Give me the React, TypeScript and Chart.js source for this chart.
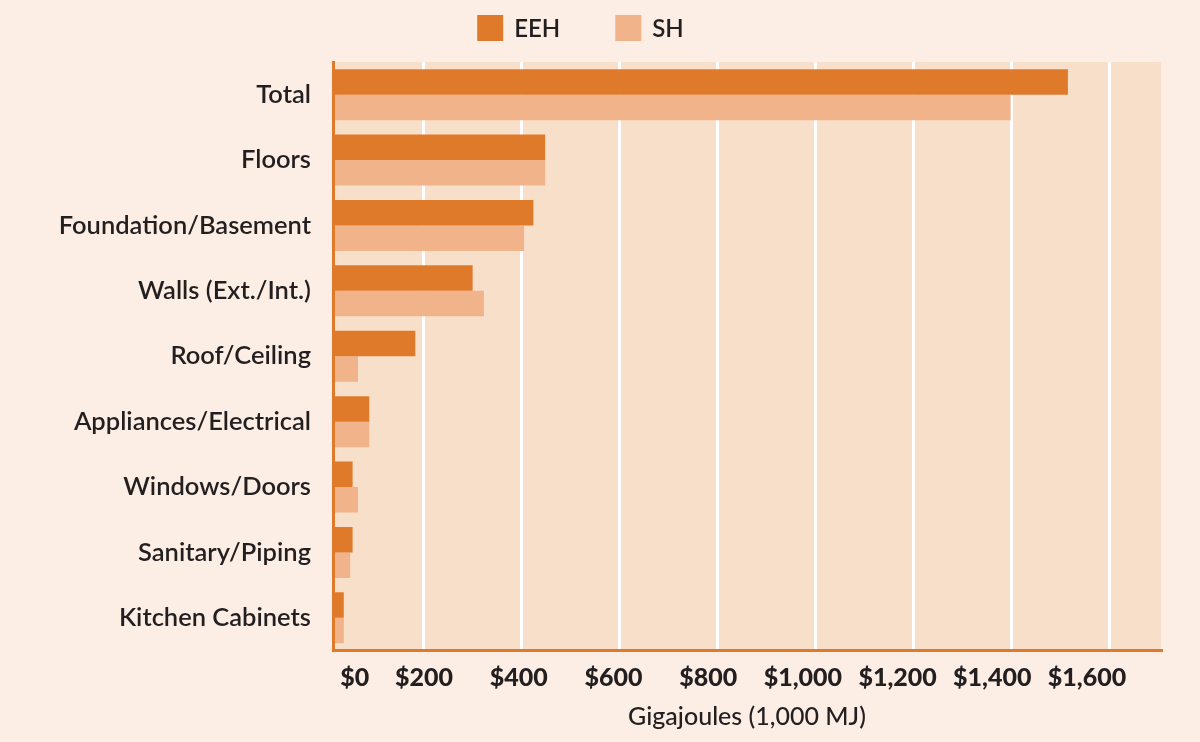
import React, { useEffect, useRef } from 'react';
import { Chart, registerables } from 'chart.js';

Chart.register(...registerables);

const categories = [
  'Total',
  'Floors',
  'Foundation/Basement',
  'Walls (Ext./Int.)',
  'Roof/Ceiling',
  'Appliances/Electrical',
  'Windows/Doors',
  'Sanitary/Piping',
  'Kitchen Cabinets',
];
const seriesNames = ['EEH', 'SH'];
const eehValues = [1515, 448, 424, 300, 183, 89, 55, 55, 37];
const shValues = [1398, 448, 405, 323, 66, 89, 66, 50, 37];
const gridValues = [200, 400, 600, 800, 1000, 1200, 1400, 1600];
const tickLabels = ['$0', '$200', '$400', '$600', '$800', '$1,000', '$1,200', '$1,400', '$1,600'];
const axisTitle = 'Gigajoules (1,000 MJ)';

const PAGE_BG = '#FCEEE4';
const PLOT_BG = '#F8DFCA';
const EEH_COLOR = '#E07A2B';
const SH_COLOR = '#F0B38A';
const AXIS_COLOR = '#E07A2B';
const TEXT_COLOR = '#231F20';
const FONT = 'Lato, "Open Sans", sans-serif';

const bgPlugin = {
  id: 'bgPlugin',
  beforeDraw(chart: any) {
    const { ctx, chartArea, width, height } = chart;
    ctx.save();
    ctx.fillStyle = PAGE_BG;
    ctx.fillRect(0, 0, width, height);
    ctx.fillStyle = PLOT_BG;
    ctx.fillRect(chartArea.left, chartArea.top, chartArea.right - chartArea.left, chartArea.bottom - chartArea.top);
    ctx.restore();
  },
};

const legendPlugin = {
  id: 'customLegend',
  afterDraw(chart: any) {
    const { ctx, chartArea } = chart;
    const box = 26;
    const textGap = 11;
    const itemGap = 55;
    ctx.save();
    ctx.font = `600 24px ${FONT}`;
    ctx.textBaseline = 'middle';
    ctx.textAlign = 'left';
    const items = chart.data.datasets.map((ds: any) => ({
      label: ds.label,
      color: ds.backgroundColor,
      w: ctx.measureText(ds.label).width,
    }));
    const total = items.reduce((s: number, it: any, i: number) => s + box + textGap + it.w + (i > 0 ? itemGap : 0), 0);
    const cx = chartArea.right / 2;
    let x = cx - total / 2;
    const y = 15;
    items.forEach((it: any) => {
      ctx.fillStyle = it.color;
      ctx.fillRect(x, y, box, box);
      ctx.fillStyle = TEXT_COLOR;
      ctx.fillText(it.label, x + box + textGap, y + box / 2 + 1);
      x += box + textGap + it.w + itemGap;
    });
    ctx.restore();
  },
};

export default function App() {
  const canvasRef = useRef<HTMLCanvasElement | null>(null);

  useEffect(() => {
    document.body.style.margin = '0';
    document.body.style.background = PAGE_BG;
    const canvas = canvasRef.current;
    if (!canvas) return;
    const labelZero = 54;
    const chart = new Chart(canvas, {
      type: 'bar',
      data: {
        labels: categories,
        datasets: [
          {
            label: seriesNames[0],
            data: eehValues,
            backgroundColor: EEH_COLOR,
            borderWidth: 0,
            categoryPercentage: 0.78,
            barPercentage: 1,
            clip: 0,
          },
          {
            label: seriesNames[1],
            data: shValues,
            backgroundColor: SH_COLOR,
            borderWidth: 0,
            categoryPercentage: 0.78,
            barPercentage: 1,
            clip: 0,
          },
        ],
      },
      options: {
        indexAxis: 'y',
        responsive: false,
        animation: false,
        devicePixelRatio: 1,
        layout: { padding: { top: 62, right: 39, left: 0, bottom: 0 } },
        plugins: {
          legend: { display: false },
          tooltip: { enabled: false },
        },
        scales: {
          x: {
            type: 'linear',
            position: 'bottom',
            min: 15,
            max: 1705,
            afterBuildTicks: (s: any) => {
              s.ticks = gridValues.map((v) => ({ value: v }));
            },
            grid: { color: '#FFFFFF', lineWidth: 3, drawTicks: false },
            border: { color: AXIS_COLOR, width: 3, z: 1 },
            ticks: { display: false },
            afterFit: (s: any) => {
              s.height = 0;
            },
          },
          x2: {
            type: 'linear',
            position: 'bottom',
            min: 7.84,
            max: 1756.2,
            afterBuildTicks: (s: any) => {
              s.ticks = tickLabels.map((_, i) => ({ value: i === 0 ? labelZero : i * 200 }));
            },
            grid: { display: false, drawTicks: false },
            border: { display: false },
            ticks: {
              autoSkip: false,
              maxRotation: 0,
              padding: 12,
              color: TEXT_COLOR,
              font: { family: FONT, size: 25, weight: '900' },
              callback: (_v: any, i: number) => tickLabels[i],
            },
            title: {
              display: true,
              text: axisTitle,
              color: TEXT_COLOR,
              font: { family: FONT, size: 25, weight: '500' },
              padding: { top: 0, bottom: 10 },
            },
            afterFit: (s: any) => {
              s.height = 91.5;
            },
          },
          y: {
            type: 'category',
            grid: { display: false, drawTicks: false },
            border: { color: AXIS_COLOR, width: 3, z: 1 },
            ticks: {
              padding: 22,
              color: TEXT_COLOR,
              font: { family: FONT, size: 25.5, weight: '600' },
            },
            afterFit: (s: any) => {
              s.width = 333;
            },
          },
        },
      },
      plugins: [bgPlugin, legendPlugin],
    } as any);
    return () => chart.destroy();
  }, []);

  return (
    <div style={{ position: 'absolute', left: 0, top: 0, width: 1200, height: 742, background: PAGE_BG }}>
      <canvas ref={canvasRef} width={1200} height={742} style={{ display: 'block', width: 1200, height: 742 }} />
    </div>
  );
}
